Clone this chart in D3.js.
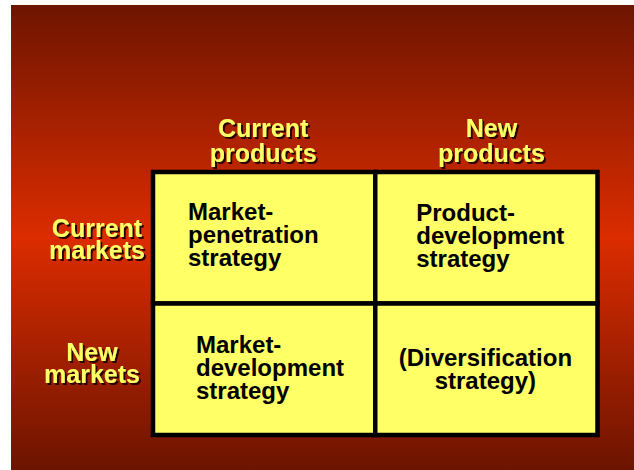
<!DOCTYPE html>
<html>
<head>
<meta charset="utf-8">
<script src="https://cdn.jsdelivr.net/npm/d3@7"></script>
<style>
  html, body { margin: 0; padding: 0; background: #ffffff; }
  svg { display: block; }
  text { font-family: "Liberation Sans", Arial, Helvetica, sans-serif; font-weight: bold; }
</style>
</head>
<body>
<svg id="chart" width="634" height="470"></svg>
<script>
// ---- data ----
const productTypes = ["Current products", "New products"];
const marketTypes = ["Current markets", "New markets"];
const headerLines = [["Current", "products"], ["New", "products"]];
const rowLabelLines = [["Current", "markets"], ["New", "markets"]];
const cellLines = [
  ["Market-", "penetration", "strategy"],
  ["Product-", "development", "strategy"],
  ["Market-", "development", "strategy"],
  ["(Diversification", "strategy)"]
];

// ---- layout ----
const W = 634, H = 470;
const svg = d3.select("#chart");

const defs = svg.append("defs");
const grad = defs.append("linearGradient")
  .attr("id", "bg").attr("x1", 0).attr("y1", 0).attr("x2", 0).attr("y2", 1);
grad.append("stop").attr("offset", "0%").attr("stop-color", "#6e1500");
grad.append("stop").attr("offset", "50%").attr("stop-color", "#dc2c00");
grad.append("stop").attr("offset", "100%").attr("stop-color", "#6c1400");

const shadow = defs.append("filter").attr("id", "shadow")
  .attr("x", "-10%").attr("y", "-10%").attr("width", "130%").attr("height", "130%");
shadow.append("feOffset").attr("in", "SourceAlpha").attr("dx", 2).attr("dy", 2).attr("result", "off");
shadow.append("feFlood").attr("flood-color", "#2a0600").attr("result", "col");
shadow.append("feComposite").attr("in", "col").attr("in2", "off").attr("operator", "in").attr("result", "sh");
const merge = shadow.append("feMerge");
merge.append("feMergeNode").attr("in", "sh");
merge.append("feMergeNode").attr("in", "SourceGraphic");

svg.append("rect")
  .attr("x", 11).attr("y", 5)
  .attr("width", W - 11).attr("height", H - 5)
  .attr("fill", "url(#bg)");

const x = d3.scaleBand().domain(productTypes).range([153, 597.5]);
const y = d3.scaleBand().domain(marketTypes).range([172, 435]);

const yellow = "#ffff66";

function shadowText(g, xPos, yPos, lines, lh, size, anchor) {
  const t = g.append("text")
    .attr("text-anchor", anchor)
    .attr("font-size", size)
    .attr("fill", yellow)
    .attr("filter", "url(#shadow)");
  lines.forEach((ln, i) => {
    t.append("tspan").attr("x", xPos).attr("y", yPos + i * lh).text(ln);
  });
}

// cells
const cellData = [];
marketTypes.forEach((m, r) => productTypes.forEach((p, c) => {
  cellData.push({ m, p, lines: cellLines[r * 2 + c], idx: r * 2 + c });
}));

const grid = svg.append("g");
grid.selectAll("rect.cell")
  .data(cellData)
  .join("rect")
  .attr("class", "cell")
  .attr("x", d => x(d.p))
  .attr("y", d => y(d.m))
  .attr("width", x.bandwidth())
  .attr("height", y.bandwidth())
  .attr("fill", yellow)
  .attr("stroke", "#000")
  .attr("stroke-width", 4.5);

// cell texts
const cellOffsets = [
  { dx: 35, dy: 48, anchor: "start" },
  { dx: 41, dy: 49, anchor: "start" },
  { dx: 43, dy: 49.5, anchor: "start" },
  { dx: x.bandwidth() / 2 - 1, dy: 62.5, anchor: "middle" }
];
cellData.forEach(d => {
  const o = cellOffsets[d.idx];
  const t = svg.append("text")
    .attr("text-anchor", o.anchor)
    .attr("font-size", 24)
    .attr("fill", "#000");
  d.lines.forEach((ln, i) => {
    t.append("tspan")
      .attr("x", x(d.p) + o.dx)
      .attr("y", y(d.m) + o.dy + i * 23)
      .text(ln);
  });
});

// column headers
const headerG = svg.append("g");
const headerDx = [-1, 5];
productTypes.forEach((p, i) => {
  shadowText(headerG, x(p) + x.bandwidth() / 2 + headerDx[i], 137, headerLines[i], 24.5, 25, "middle");
});

// row labels
const rowG = svg.append("g");
const rowCx = [97, 92];
const rowBase = [237, 361];
marketTypes.forEach((m, i) => {
  shadowText(rowG, rowCx[i], rowBase[i], rowLabelLines[i], 22, 25, "middle");
});
</script>
</body>
</html>
